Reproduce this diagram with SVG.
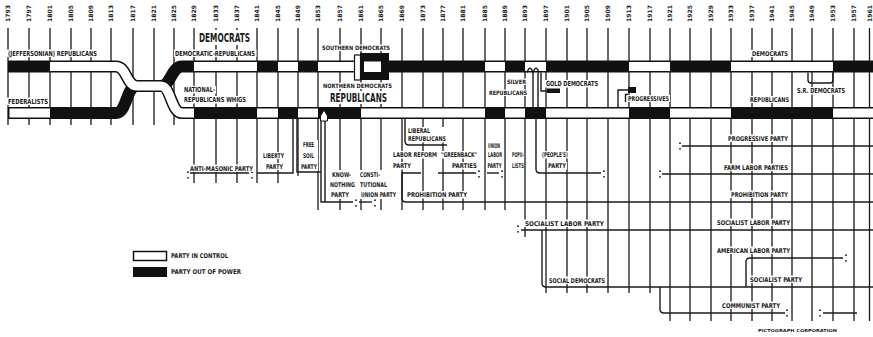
<svg xmlns="http://www.w3.org/2000/svg" width="873" height="337" viewBox="0 0 873 337">
<defs>
<style>
.g{stroke:#1a1a1a;stroke-width:1.3;fill:none}
.c{stroke:#1a1a1a;stroke-width:1.4;fill:none}
.t{font-family:"Liberation Sans Narrow","DejaVu Sans Condensed","Liberation Sans",sans-serif;font-weight:bold;fill:#1a1a1a}
.bg{fill:#fff}
.out{stroke:#111;stroke-width:12;fill:none}
.inn{stroke:#fff;stroke-width:9;fill:none}
</style>
</defs>
<rect width="873" height="337" fill="#fff"/>
<g id="years" class="t" font-size="6">
<text transform="translate(10.2,22) rotate(-90)" textLength="17" lengthAdjust="spacingAndGlyphs">1793</text>
<text transform="translate(31.2,22) rotate(-90)" textLength="17" lengthAdjust="spacingAndGlyphs">1797</text>
<text transform="translate(52.2,22) rotate(-90)" textLength="17" lengthAdjust="spacingAndGlyphs">1801</text>
<text transform="translate(73.2,22) rotate(-90)" textLength="17" lengthAdjust="spacingAndGlyphs">1805</text>
<text transform="translate(93.2,22) rotate(-90)" textLength="17" lengthAdjust="spacingAndGlyphs">1809</text>
<text transform="translate(113.2,22) rotate(-90)" textLength="17" lengthAdjust="spacingAndGlyphs">1813</text>
<text transform="translate(135.2,22) rotate(-90)" textLength="17" lengthAdjust="spacingAndGlyphs">1817</text>
<text transform="translate(156.2,22) rotate(-90)" textLength="17" lengthAdjust="spacingAndGlyphs">1821</text>
<text transform="translate(176.2,22) rotate(-90)" textLength="17" lengthAdjust="spacingAndGlyphs">1825</text>
<text transform="translate(196.2,22) rotate(-90)" textLength="17" lengthAdjust="spacingAndGlyphs">1829</text>
<text transform="translate(218.2,22) rotate(-90)" textLength="17" lengthAdjust="spacingAndGlyphs">1833</text>
<text transform="translate(239.2,22) rotate(-90)" textLength="17" lengthAdjust="spacingAndGlyphs">1837</text>
<text transform="translate(259.2,22) rotate(-90)" textLength="17" lengthAdjust="spacingAndGlyphs">1841</text>
<text transform="translate(280.2,22) rotate(-90)" textLength="17" lengthAdjust="spacingAndGlyphs">1845</text>
<text transform="translate(300.2,22) rotate(-90)" textLength="17" lengthAdjust="spacingAndGlyphs">1849</text>
<text transform="translate(320.2,22) rotate(-90)" textLength="17" lengthAdjust="spacingAndGlyphs">1853</text>
<text transform="translate(342.2,22) rotate(-90)" textLength="17" lengthAdjust="spacingAndGlyphs">1857</text>
<text transform="translate(363.2,22) rotate(-90)" textLength="17" lengthAdjust="spacingAndGlyphs">1861</text>
<text transform="translate(383.2,22) rotate(-90)" textLength="17" lengthAdjust="spacingAndGlyphs">1865</text>
<text transform="translate(404.2,22) rotate(-90)" textLength="17" lengthAdjust="spacingAndGlyphs">1869</text>
<text transform="translate(425.2,22) rotate(-90)" textLength="17" lengthAdjust="spacingAndGlyphs">1873</text>
<text transform="translate(445.2,22) rotate(-90)" textLength="17" lengthAdjust="spacingAndGlyphs">1877</text>
<text transform="translate(465.2,22) rotate(-90)" textLength="17" lengthAdjust="spacingAndGlyphs">1881</text>
<text transform="translate(487.2,22) rotate(-90)" textLength="17" lengthAdjust="spacingAndGlyphs">1885</text>
<text transform="translate(507.2,22) rotate(-90)" textLength="17" lengthAdjust="spacingAndGlyphs">1889</text>
<text transform="translate(527.2,22) rotate(-90)" textLength="17" lengthAdjust="spacingAndGlyphs">1893</text>
<text transform="translate(548.2,22) rotate(-90)" textLength="17" lengthAdjust="spacingAndGlyphs">1897</text>
<text transform="translate(569.2,22) rotate(-90)" textLength="17" lengthAdjust="spacingAndGlyphs">1901</text>
<text transform="translate(589.2,22) rotate(-90)" textLength="17" lengthAdjust="spacingAndGlyphs">1905</text>
<text transform="translate(610.2,22) rotate(-90)" textLength="17" lengthAdjust="spacingAndGlyphs">1909</text>
<text transform="translate(631.2,22) rotate(-90)" textLength="17" lengthAdjust="spacingAndGlyphs">1913</text>
<text transform="translate(652.2,22) rotate(-90)" textLength="17" lengthAdjust="spacingAndGlyphs">1917</text>
<text transform="translate(672.2,22) rotate(-90)" textLength="17" lengthAdjust="spacingAndGlyphs">1921</text>
<text transform="translate(692.2,22) rotate(-90)" textLength="17" lengthAdjust="spacingAndGlyphs">1925</text>
<text transform="translate(713.2,22) rotate(-90)" textLength="17" lengthAdjust="spacingAndGlyphs">1929</text>
<text transform="translate(733.2,22) rotate(-90)" textLength="17" lengthAdjust="spacingAndGlyphs">1933</text>
<text transform="translate(754.2,22) rotate(-90)" textLength="17" lengthAdjust="spacingAndGlyphs">1937</text>
<text transform="translate(774.2,22) rotate(-90)" textLength="17" lengthAdjust="spacingAndGlyphs">1941</text>
<text transform="translate(794.2,22) rotate(-90)" textLength="17" lengthAdjust="spacingAndGlyphs">1945</text>
<text transform="translate(814.2,22) rotate(-90)" textLength="17" lengthAdjust="spacingAndGlyphs">1949</text>
<text transform="translate(835.2,22) rotate(-90)" textLength="17" lengthAdjust="spacingAndGlyphs">1953</text>
<text transform="translate(856.2,22) rotate(-90)" textLength="17" lengthAdjust="spacingAndGlyphs">1957</text>
<text transform="translate(871.7,22) rotate(-90)" textLength="17" lengthAdjust="spacingAndGlyphs">1961</text>
</g>
<g id="grid" class="g">
<path d="M8 28V125M29 28V125M50 28V125M71 28V125M91 28V125M111 28V125M133 28V125M154 28V125M174 28V125
M194 28V183M216 28V183M237 28V183M257 28V183M278 28V183M298 28V176
M318 28V210M340 28V210M361 28V210M381 28V210M402 28V210M423 28V210M443 28V210M463 28V210M485 28V210M505 28V210M525 28V237
M546 28V293M567 28V293M587 28V293M608 28V293M629 28V293M650 28V293
M670 28V321M690 28V321M711 28V321M731 28V321M752 28V321M772 28V321M792 28V321M812 28V321M833 28V321M854 28V321M869.5 28V321"/>
</g>
<g id="bands">
<path class="out" d="M8 66.5H116C127 66.5 126 86 137 86H161M8 113H116C127 113 126 86 137 86M161 86C171 86 171 66.5 182 66.5H873M161 86C171 86 171 113 182 113H873"/>
<path class="inn" d="M9.5 113H50M50 66.5H116C127 66.5 126 86 137 86H161C171 86 171 113 182 113H194"/>
<path class="inn" d="M194 66.5H257M278 66.5H298M318 66.5H361M485 66.5H505M525 66.5H546M629 66.5H670M731 66.5H833"/>
<path class="inn" d="M257 113H278M298 113H318M361 113H485M505 113H525M546 113H629M670 113H731M833 113H873"/>
<rect x="360" y="53" width="29" height="27" fill="#111"/>
<rect x="364" y="61.5" width="17" height="10.5" fill="#fff"/>
<rect x="354.5" y="55" width="6" height="25" fill="#fff" stroke="#111" stroke-width="1.2"/>
<polygon points="320.5,121 320.5,116 324,110 327.5,116 327.5,121" fill="#fff" stroke="#111" stroke-width="1"/>
<rect x="547" y="88.5" width="13" height="4.5" fill="#111"/>
<rect x="628" y="87" width="8" height="6" fill="#111"/>
</g>
<g id="connectors" class="c">
<path d="M190 173H249"/>
<path d="M293 119V173H257"/>
<path d="M297 119V172H321"/>
<path d="M321 121V202H353M325 121V202"/>
<path d="M359 202H372"/>
<path d="M421 173H402V198Q402 202 406 202H873"/>
<path d="M405 119V141Q405 145 409 145H447"/>
<path d="M438 173H476"/>
<path d="M487 173H499"/>
<path d="M536 119V169Q536 173 540 173H601"/>
<path d="M521 230H873"/>
<path d="M542 230V283Q542 287 546 287H873"/>
<path d="M660 287V309Q660 313 664 313H785M823 313H857"/>
<path d="M746 287V262Q746 258 750 258H843"/>
<path d="M682 146H873M662 174H873"/>
<path d="M533 72.5V107M538 72.5V107"/>
<path d="M527 72.5Q530 64 533 72.5Q536 64 539 72.5"/>
<path d="M541 72.5V91H560"/>
<path d="M618 107V90H629"/>
<path d="M628 94.5H625.5V102"/>
<path d="M808 72.5V80Q808 83 811 83H830Q833 83 833 80V72.5"/>
</g>
<g id="colons" fill="#111">
<circle cx="188" cy="172.2" r="0.9"/><circle cx="188" cy="177.8" r="0.9"/>
<circle cx="252" cy="172.2" r="0.9"/><circle cx="252" cy="177.8" r="0.9"/>
<circle cx="356" cy="200.2" r="0.9"/><circle cx="356" cy="205.8" r="0.9"/>
<circle cx="375" cy="200.2" r="0.9"/><circle cx="375" cy="205.8" r="0.9"/>
<circle cx="479" cy="171.2" r="0.9"/><circle cx="479" cy="176.8" r="0.9"/>
<circle cx="502" cy="171.2" r="0.9"/><circle cx="502" cy="176.8" r="0.9"/>
<circle cx="604" cy="171.2" r="0.9"/><circle cx="604" cy="176.8" r="0.9"/>
<circle cx="680" cy="143.2" r="0.9"/><circle cx="680" cy="148.8" r="0.9"/>
<circle cx="660" cy="171.2" r="0.9"/><circle cx="660" cy="176.8" r="0.9"/>
<circle cx="518" cy="226.2" r="0.9"/><circle cx="518" cy="231.8" r="0.9"/>
<circle cx="787" cy="310.2" r="0.9"/><circle cx="787" cy="315.8" r="0.9"/>
<circle cx="820" cy="310.2" r="0.9"/><circle cx="820" cy="315.8" r="0.9"/>
<circle cx="846" cy="255.2" r="0.9"/><circle cx="846" cy="260.8" r="0.9"/>
</g>
<g id="n-jeffersonian"><rect class="bg" x="7" y="49.5" width="91" height="7.5"/><text class="t" x="8" y="56" font-size="7" textLength="89" lengthAdjust="spacingAndGlyphs">(JEFFERSONIAN) REPUBLICANS</text></g>
<g id="n-federalists"><rect class="bg" x="7" y="97.5" width="42" height="7.5"/><text class="t" x="8" y="104" font-size="7" textLength="40" lengthAdjust="spacingAndGlyphs">FEDERALISTS</text></g>
<g id="n-democrats"><rect class="bg" x="197" y="30" width="56" height="15"/><text class="t" x="199" y="42" font-size="13" textLength="51" lengthAdjust="spacingAndGlyphs">DEMOCRATS</text></g>
<g id="n-demrep"><rect class="bg" x="174" y="49.5" width="82.5" height="7.5"/><text class="t" x="175" y="56" font-size="7" textLength="80" lengthAdjust="spacingAndGlyphs">DEMOCRATIC-REPUBLICANS</text></g>
<g id="n-natrep"><rect class="bg" x="183" y="86" width="33" height="7.5"/><text class="t" x="184" y="92" font-size="7" textLength="31" lengthAdjust="spacingAndGlyphs">NATIONAL-</text><rect class="bg" x="183" y="96" width="64" height="7.5"/><text class="t" x="184" y="102" font-size="7" textLength="62" lengthAdjust="spacingAndGlyphs">REPUBLICANS WHIGS</text></g>
<g id="n-southern"><rect class="bg" x="321" y="44.5" width="70" height="6.5"/><text class="t" x="322" y="50" font-size="6" textLength="68" lengthAdjust="spacingAndGlyphs">SOUTHERN DEMOCRATS</text></g>
<g id="n-northern"><rect class="bg" x="322" y="82.5" width="71" height="6.5"/><text class="t" x="323" y="88" font-size="6" textLength="69" lengthAdjust="spacingAndGlyphs">NORTHERN DEMOCRATS</text><rect class="bg" x="329" y="91" width="60" height="13"/><text class="t" x="330" y="102" font-size="12" textLength="57" lengthAdjust="spacingAndGlyphs">REPUBLICANS</text></g>
<g id="n-silver"><rect class="bg" x="506" y="78.5" width="21" height="6.5"/><text class="t" x="507" y="84" font-size="6" textLength="19" lengthAdjust="spacingAndGlyphs">SILVER</text><rect class="bg" x="488" y="89.5" width="40" height="6.5"/><text class="t" x="489" y="95" font-size="6" textLength="38" lengthAdjust="spacingAndGlyphs">REPUBLICANS</text></g>
<g id="n-gold"><rect class="bg" x="545" y="80" width="55" height="7.5"/><text class="t" x="546" y="86" font-size="7" textLength="52" lengthAdjust="spacingAndGlyphs">GOLD DEMOCRATS</text></g>
<g id="n-progressives"><rect class="bg" x="627" y="95" width="43" height="7"/><text class="t" x="628" y="101" font-size="6.5" textLength="41" lengthAdjust="spacingAndGlyphs">PROGRESSIVES</text></g>
<g id="n-democrats2"><rect class="bg" x="751" y="50" width="38" height="7"/><text class="t" x="752" y="56" font-size="6.5" textLength="36" lengthAdjust="spacingAndGlyphs">DEMOCRATS</text></g>
<g id="n-republicans2"><rect class="bg" x="749" y="96" width="41" height="7"/><text class="t" x="750" y="102" font-size="6.5" textLength="39" lengthAdjust="spacingAndGlyphs">REPUBLICANS</text></g>
<g id="n-srdemocrats"><rect class="bg" x="796" y="87" width="50" height="7.5"/><text class="t" x="797" y="93" font-size="7" textLength="48" lengthAdjust="spacingAndGlyphs">S.R. DEMOCRATS</text></g>
<g id="n-antimasonic"><rect class="bg" x="189" y="164.5" width="65" height="7.5"/><text class="t" x="190" y="171" font-size="6.5" textLength="63" lengthAdjust="spacingAndGlyphs">ANTI-MASONIC PARTY</text></g>
<g id="n-liberty"><rect class="bg" x="262" y="152" width="23" height="7"/><text class="t" x="263" y="158" font-size="6.5" textLength="21" lengthAdjust="spacingAndGlyphs">LIBERTY</text><rect class="bg" x="265" y="163" width="19" height="7"/><text class="t" x="266" y="169" font-size="6.5" textLength="17" lengthAdjust="spacingAndGlyphs">PARTY</text></g>
<g id="n-freesoil"><rect class="bg" x="300" y="140" width="18" height="31"/><text class="t" x="303" y="147" font-size="6.5" textLength="11" lengthAdjust="spacingAndGlyphs">FREE</text><text class="t" x="303" y="158" font-size="6.5" textLength="11" lengthAdjust="spacingAndGlyphs">SOIL</text><text class="t" x="301" y="169" font-size="6.5" textLength="16" lengthAdjust="spacingAndGlyphs">PARTY</text></g>
<g id="n-knownothing"><rect class="bg" x="329" y="170" width="27" height="29"/><text class="t" x="332" y="177" font-size="6.5" textLength="19" lengthAdjust="spacingAndGlyphs">KNOW-</text><text class="t" x="330" y="187" font-size="6.5" textLength="25" lengthAdjust="spacingAndGlyphs">NOTHING</text><text class="t" x="331" y="197" font-size="6.5" textLength="18" lengthAdjust="spacingAndGlyphs">PARTY</text></g>
<g id="n-constunion"><rect class="bg" x="359" y="170" width="38" height="29"/><text class="t" x="360" y="177" font-size="6.5" textLength="20" lengthAdjust="spacingAndGlyphs">CONSTI-</text><text class="t" x="360" y="187" font-size="6.5" textLength="27" lengthAdjust="spacingAndGlyphs">TUTIONAL</text><text class="t" x="361" y="197" font-size="6.5" textLength="35" lengthAdjust="spacingAndGlyphs">UNION PARTY</text></g>
<g id="n-prohibition1"><rect class="bg" x="406" y="191" width="62" height="7.5"/><text class="t" x="407" y="197" font-size="6.5" textLength="60" lengthAdjust="spacingAndGlyphs">PROHIBITION PARTY</text></g>
<g id="n-liberal"><rect class="bg" x="407" y="127" width="41" height="15.5"/><text class="t" x="408" y="133" font-size="6.5" textLength="22" lengthAdjust="spacingAndGlyphs">LIBERAL</text><text class="t" x="408" y="141" font-size="6.5" textLength="38" lengthAdjust="spacingAndGlyphs">REPUBLICANS</text></g>
<g id="n-laborreform"><rect class="bg" x="392" y="151" width="46" height="7.5"/><text class="t" x="393" y="157" font-size="6.5" textLength="44" lengthAdjust="spacingAndGlyphs">LABOR REFORM</text><rect class="bg" x="392" y="162" width="20" height="7.5"/><text class="t" x="393" y="168" font-size="6.5" textLength="18" lengthAdjust="spacingAndGlyphs">PARTY</text></g>
<g id="n-greenback"><rect class="bg" x="440" y="151" width="38" height="7.5"/><text class="t" x="441" y="157" font-size="6.5" textLength="36" lengthAdjust="spacingAndGlyphs">"GREENBACK"</text><rect class="bg" x="451" y="162" width="27" height="7.5"/><text class="t" x="452" y="168" font-size="6.5" textLength="25" lengthAdjust="spacingAndGlyphs">PARTIES</text></g>
<g id="n-unionlabor"><rect class="bg" x="487" y="142" width="16" height="28"/><text class="t" x="488" y="148" font-size="6.5" textLength="12" lengthAdjust="spacingAndGlyphs">UNION</text><text class="t" x="488" y="157" font-size="6.5" textLength="14" lengthAdjust="spacingAndGlyphs">LABOR</text><text class="t" x="487.5" y="168" font-size="6.5" textLength="14" lengthAdjust="spacingAndGlyphs">PARTY</text></g>
<g id="n-populists"><rect class="bg" x="511" y="151" width="13" height="19"/><text class="t" x="512" y="157" font-size="6.5" textLength="12" lengthAdjust="spacingAndGlyphs">POPU-</text><text class="t" x="512" y="168" font-size="6.5" textLength="12" lengthAdjust="spacingAndGlyphs">LISTS</text></g>
<g id="n-peoples"><rect class="bg" x="541" y="151" width="28" height="7.5"/><text class="t" x="542" y="157" font-size="6.5" textLength="26" lengthAdjust="spacingAndGlyphs">(PEOPLE'S)</text><rect class="bg" x="547" y="162" width="20" height="7.5"/><text class="t" x="548" y="168" font-size="6.5" textLength="18" lengthAdjust="spacingAndGlyphs">PARTY</text></g>
<g id="n-soclabor1"><rect class="bg" x="524" y="219.5" width="81" height="7.5"/><text class="t" x="525" y="226" font-size="6.5" textLength="79" lengthAdjust="spacingAndGlyphs">SOCIALIST LABOR PARTY</text></g>
<g id="n-socdem"><rect class="bg" x="548" y="276.5" width="58" height="7.5"/><text class="t" x="549" y="283" font-size="6.5" textLength="56" lengthAdjust="spacingAndGlyphs">SOCIAL DEMOCRATS</text></g>
<g id="n-progparty"><rect class="bg" x="727" y="134.5" width="62" height="7.5"/><text class="t" x="728" y="141" font-size="6.5" textLength="60" lengthAdjust="spacingAndGlyphs">PROGRESSIVE PARTY</text></g>
<g id="n-farmlabor"><rect class="bg" x="723" y="163.5" width="66" height="7.5"/><text class="t" x="724" y="170" font-size="6.5" textLength="64" lengthAdjust="spacingAndGlyphs">FARM LABOR PARTIES</text></g>
<g id="n-prohibition2"><rect class="bg" x="730" y="190.5" width="59" height="7.5"/><text class="t" x="731" y="197" font-size="6.5" textLength="57" lengthAdjust="spacingAndGlyphs">PROHIBITION PARTY</text></g>
<g id="n-soclabor2"><rect class="bg" x="716" y="218.5" width="75" height="7.5"/><text class="t" x="717" y="225" font-size="6.5" textLength="73" lengthAdjust="spacingAndGlyphs">SOCIALIST LABOR PARTY</text></g>
<g id="n-amlabor"><rect class="bg" x="716" y="246.5" width="75" height="7.5"/><text class="t" x="717" y="253" font-size="6.5" textLength="73" lengthAdjust="spacingAndGlyphs">AMERICAN LABOR PARTY</text></g>
<g id="n-socialist"><rect class="bg" x="749" y="275.5" width="54" height="7.5"/><text class="t" x="750" y="282" font-size="6.5" textLength="52" lengthAdjust="spacingAndGlyphs">SOCIALIST PARTY</text></g>
<g id="n-communist"><rect class="bg" x="721" y="301.5" width="60" height="7.5"/><text class="t" x="722" y="308" font-size="6.5" textLength="58" lengthAdjust="spacingAndGlyphs">COMMUNIST PARTY</text></g>
<g id="credit"><text class="t" x="758" y="332" font-size="4" textLength="79" lengthAdjust="spacingAndGlyphs">PICTOGRAPH CORPORATION</text></g>
<g id="legend">
<rect x="133.5" y="251.5" width="33" height="9" fill="#fff" stroke="#111" stroke-width="1.5"/>
<text class="t" x="171" y="258" font-size="6.5" textLength="57" lengthAdjust="spacingAndGlyphs">PARTY IN CONTROL</text>
<rect x="133" y="267" width="34" height="10" fill="#111"/>
<text class="t" x="171" y="274" font-size="6.5" textLength="70" lengthAdjust="spacingAndGlyphs">PARTY OUT OF POWER</text>
</g>
</svg>
